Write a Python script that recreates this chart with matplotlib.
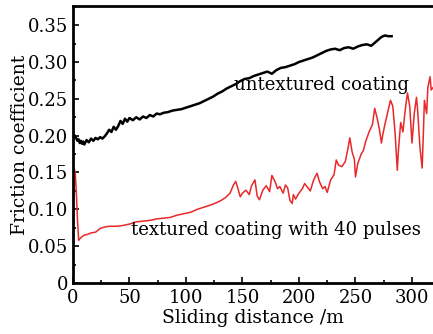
import matplotlib.pyplot as plt
from matplotlib.ticker import MultipleLocator

# untextured coating (black)
x_un = [0, 1, 2, 3, 4, 5, 6, 7, 8, 9, 10, 12, 14, 16, 18, 20, 22, 24, 26, 28, 30, 32,
        34, 36, 38, 40, 42, 44, 46, 48, 50, 53, 56, 59, 62, 65, 68, 71, 74, 77, 80, 84,
        88, 92, 96, 100, 104, 108, 112, 116, 120, 124, 128, 132, 136, 140, 144, 148,
        152, 156, 160, 164, 168, 172, 176, 180, 184, 188, 192, 196, 200, 204, 208, 212,
        216, 220, 224, 228, 232, 236, 240, 244, 248, 252, 256, 260, 264, 267, 270, 273,
        276, 279, 282]
y_un = [0.197, 0.201, 0.199, 0.196, 0.193, 0.195, 0.190, 0.193, 0.189, 0.192, 0.188,
        0.194, 0.191, 0.196, 0.193, 0.197, 0.195, 0.198, 0.196, 0.199, 0.203, 0.208,
        0.205, 0.212, 0.208, 0.213, 0.220, 0.216, 0.223, 0.219, 0.224, 0.221, 0.225,
        0.222, 0.226, 0.224, 0.228, 0.226, 0.230, 0.229, 0.231, 0.232, 0.234, 0.235,
        0.236, 0.238, 0.240, 0.242, 0.244, 0.247, 0.250, 0.253, 0.257, 0.260, 0.264,
        0.267, 0.270, 0.274, 0.277, 0.278, 0.281, 0.283, 0.285, 0.287, 0.284, 0.289,
        0.292, 0.293, 0.295, 0.297, 0.300, 0.302, 0.304, 0.306, 0.309, 0.312, 0.315,
        0.317, 0.318, 0.316, 0.319, 0.320, 0.318, 0.321, 0.323, 0.324, 0.322, 0.326,
        0.330, 0.334, 0.336, 0.335, 0.335]

# textured coating with 40 pulses (red)
x_tx = [0, 0.5, 1, 2, 3, 4, 5, 6, 8, 10, 13, 16, 20, 24, 28, 32, 38, 44, 50, 56, 62,
        68, 74, 80, 86, 92, 98, 104, 110, 116, 122, 127, 131, 135, 139, 142, 144, 146,
        148, 150, 153, 156, 158, 161, 163, 165, 168, 171, 174, 176, 179, 181, 183, 186,
        188, 190, 192, 194, 195, 197, 200, 203, 205, 207, 210, 213, 216, 218, 221, 223,
        225, 228, 231, 233, 235, 238, 241, 243, 245, 247, 249, 250, 252, 255, 257, 259,
        262, 265, 267, 269, 271, 273, 274, 276, 279, 281, 283, 285, 287, 288, 290, 292,
        294, 296, 298, 300, 302, 304, 305, 307, 309, 310, 311, 313, 314, 316, 317, 319]
y_tx = [0.000, 0.150, 0.155, 0.150, 0.120, 0.085, 0.058, 0.060, 0.063, 0.065, 0.066,
        0.068, 0.069, 0.074, 0.076, 0.077, 0.077, 0.078, 0.080, 0.083, 0.084, 0.085,
        0.087, 0.088, 0.089, 0.092, 0.094, 0.096, 0.100, 0.103, 0.106, 0.109, 0.112,
        0.116, 0.122, 0.133, 0.138, 0.128, 0.117, 0.122, 0.126, 0.120, 0.132, 0.140,
        0.118, 0.113, 0.126, 0.132, 0.124, 0.146, 0.137, 0.128, 0.131, 0.122, 0.133,
        0.129, 0.112, 0.108, 0.120, 0.114, 0.122, 0.128, 0.135, 0.131, 0.125, 0.140,
        0.149, 0.138, 0.128, 0.131, 0.123, 0.140, 0.147, 0.167, 0.160, 0.158, 0.165,
        0.180, 0.197, 0.178, 0.168, 0.144, 0.162, 0.175, 0.180, 0.192, 0.205, 0.215,
        0.237, 0.225, 0.210, 0.190, 0.200, 0.215, 0.235, 0.248, 0.240, 0.205, 0.153,
        0.180, 0.218, 0.205, 0.235, 0.258, 0.240, 0.190, 0.230, 0.252, 0.235, 0.185,
        0.156, 0.200, 0.248, 0.230, 0.265, 0.280, 0.262, 0.266]

xticks = [0, 50, 100, 150, 200, 250, 300]
yticks = [0, 0.05, 0.10, 0.15, 0.20, 0.25, 0.30, 0.35]
ytick_labels = ['0', '0.05', '0.10', '0.15', '0.20', '0.25', '0.30', '0.35']

plt.rcParams['font.family'] = ['DejaVu Serif']

fig = plt.figure(figsize=(4.33, 3.34), dpi=100)
ax = fig.add_axes([73/433, 51/334, 360/433, 277/334])

ax.plot(x_un, y_un, color='black', lw=1.8)
ax.plot(x_tx, y_tx, color='#e8282a', lw=1.1)

ax.set_xlim(0, 318.6)
ax.set_ylim(0, 0.376)
ax.set_xticks(xticks)
ax.set_yticks(yticks)
ax.set_yticklabels(ytick_labels)
ax.xaxis.set_minor_locator(MultipleLocator(25))
ax.yaxis.set_minor_locator(MultipleLocator(0.025))
ax.tick_params(which='both', direction='in', labelsize=13, width=1.2)
ax.tick_params(which='major', length=4)
ax.tick_params(which='minor', length=2.5)
ax.tick_params(axis='x', pad=4)
ax.spines['right'].set_visible(False)
for s in ['left', 'bottom', 'top']:
    ax.spines[s].set_linewidth(2)

ax.set_xlabel('Sliding distance /m', fontsize=13.5, labelpad=2)
ax.set_ylabel('Friction coefficient', fontsize=13.5, labelpad=-1)

ax.text(220, 0.269, 'untextured coating', fontsize=13, ha='center', va='center')
ax.text(180, 0.072, 'textured coating with 40 pulses', fontsize=13, ha='center', va='center')

fig.savefig('out.png', dpi=100)
